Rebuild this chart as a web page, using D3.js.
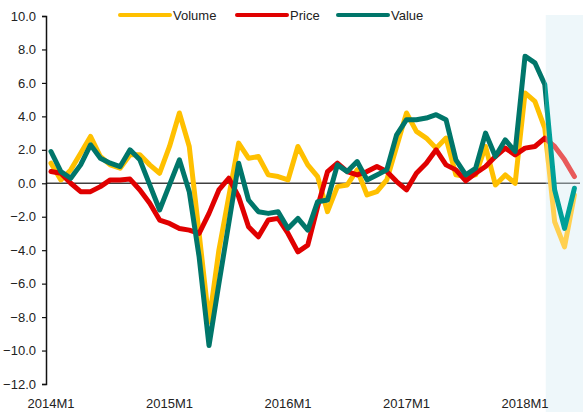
<!DOCTYPE html>
<html>
<head>
<meta charset="utf-8">
<script src="https://cdn.jsdelivr.net/npm/d3@7"></script>
<style>
  body { margin: 0; background: #fff; }
  text { font-family: "Liberation Sans", Arial, sans-serif; fill: #222; }
</style>
</head>
<body>
<div id="chart"></div>
<script>
// monthly data, 2014M1 .. 2018M6
const months = [];
for (let y = 2014; y <= 2018; y++) {
    for (let m = 1; m <= 12; m++) {
        if (y === 2018 && m > 6) break;
        months.push(y + "M" + m);
    }
}
const volume = [1.2, 0.2, 0.8, 1.8, 2.8, 1.6, 1.1, 0.9, 1.7, 1.7, 1.1, 0.6,
    2.2, 4.2, 2.2, -3.0, -8.3, -4.0, -0.8, 2.4, 1.5, 1.6, 0.5, 0.4,
    0.2, 2.2, 1.1, 0.4, -1.7, -0.2, -0.1, 0.8, -0.7, -0.5, 0.2, 2.2,
    4.2, 3.1, 2.7, 2.1, 2.7, 0.5, 0.4, 0.5, 2.2, -0.1, 0.5, 0.0,
    5.4, 4.9, 3.3, -2.3, -3.8, -0.7];
const price = [0.7, 0.6, 0.0, -0.5, -0.5, -0.2, 0.2, 0.2, 0.25, -0.4, -1.2, -2.2,
    -2.4, -2.7, -2.8, -3.0, -1.8, -0.4, 0.3, -0.8, -2.6, -3.2, -2.2, -2.1,
    -3.0, -4.1, -3.7, -1.4, 0.7, 1.2, 0.7, 0.5, 0.7, 1.0, 0.7, 0.1,
    -0.4, 0.6, 1.2, 2.0, 1.1, 0.8, 0.15, 0.6, 1.0, 1.6, 2.1, 1.7,
    2.1, 2.2, 2.7, 2.2, 1.4, 0.4];
const value = [1.9, 0.7, 0.3, 1.1, 2.3, 1.5, 1.2, 1.0, 2.0, 1.4, -0.1, -1.6,
    -0.1, 1.4, -0.5, -4.4, -9.7, -6.0, -2.4, 1.2, -1.0, -1.7, -1.8, -1.7,
    -2.7, -2.1, -2.8, -1.1, -1.0, 1.1, 0.7, 1.3, 0.2, 0.5, 0.8, 2.9,
    3.8, 3.8, 3.9, 4.1, 3.8, 1.4, 0.5, 0.9, 3.0, 1.6, 2.6, 1.9,
    7.6, 7.2, 5.9, -0.4, -2.7, -0.3];
const xTickLabels = ["2014M1", "2015M1", "2016M1", "2017M1", "2018M1"];
const yTicks = [10, 8, 6, 4, 2, 0, -2, -4, -6, -8, -10, -12];
const forecastStart = "2018M3";

const series = [
    {name: "Volume", values: volume, color: "#FFC000", light: "#FFD050"},
    {name: "Price", values: price, color: "#E00000", light: "#E85A5A"},
    {name: "Value", values: value, color: "#00766A", light: "#00A098"}
];

const width = 583, height = 412;
const svg = d3.select("#chart").append("svg")
    .attr("width", width)
    .attr("height", height);

const xScale = d3.scalePoint().domain(months).range([51, 574.4]);
const yScale = d3.scaleLinear().domain([-12, 10]).range([384, 16]);
const shadeX = xScale(forecastStart) + 1;

// zero line
svg.append("line")
    .attr("x1", 46).attr("x2", 580)
    .attr("y1", yScale(0)).attr("y2", yScale(0))
    .attr("stroke", "#404040")
    .attr("stroke-width", 1.5);

// forecast shade
svg.append("rect")
    .attr("x", shadeX).attr("y", 15)
    .attr("width", width - shadeX).attr("height", height - 15)
    .attr("fill", "#d2ebf3")
    .attr("opacity", 0.38);

const defs = svg.append("defs");
defs.append("clipPath").attr("id", "clip-actual")
    .append("rect").attr("x", 0).attr("y", 0).attr("width", shadeX).attr("height", height);
defs.append("clipPath").attr("id", "clip-forecast")
    .append("rect").attr("x", shadeX).attr("y", 0).attr("width", width - shadeX).attr("height", height);

const line = d3.line()
    .x((d, i) => xScale(months[i]))
    .y((d) => yScale(d));

series.forEach((s) => {
    svg.append("path")
        .attr("d", line(s.values))
        .attr("fill", "none")
        .attr("stroke", s.color)
        .attr("stroke-width", 5)
        .attr("stroke-linejoin", "round")
        .attr("stroke-linecap", "round")
        .attr("clip-path", "url(#clip-actual)");
    svg.append("path")
        .attr("d", line(s.values))
        .attr("fill", "none")
        .attr("stroke", s.light)
        .attr("stroke-width", 5)
        .attr("stroke-linejoin", "round")
        .attr("stroke-linecap", "round")
        .attr("clip-path", "url(#clip-forecast)");
});

// y axis
const yAxis = d3.axisLeft(yScale)
    .tickValues(yTicks)
    .tickSize(4)
    .tickPadding(6)
    .tickFormat(d3.format(".1f"));
const yG = svg.append("g")
    .attr("transform", "translate(46,0)")
    .call(yAxis);
yG.select(".domain").attr("stroke", "#111").attr("stroke-width", 1.5);
yG.selectAll(".tick line").attr("stroke", "#111").attr("stroke-width", 1.2);
yG.selectAll(".tick text")
    .attr("font-size", 13)
    .attr("font-family", "'Liberation Sans', Arial, sans-serif")
    .attr("fill", "#222");

// x labels
svg.append("g").selectAll("text")
    .data(xTickLabels)
    .enter().append("text")
        .attr("x", (d) => xScale(d))
        .attr("y", 408)
        .attr("text-anchor", "middle")
        .attr("font-size", 13)
        .text((d) => d);

// legend
const legendX = [120, 237, 338];
const legend = svg.append("g").selectAll("g")
    .data(series)
    .enter().append("g")
        .attr("transform", (d, i) => "translate(" + legendX[i] + ",15)");
legend.append("line")
    .attr("x1", 0).attr("x2", 50)
    .attr("y1", 0).attr("y2", 0)
    .attr("stroke", (d) => d.color)
    .attr("stroke-width", 4)
    .attr("stroke-linecap", "round");
legend.append("text")
    .attr("x", 53)
    .attr("y", 5)
    .attr("font-size", 13)
    .text((d) => d.name);
</script>
</body>
</html>
